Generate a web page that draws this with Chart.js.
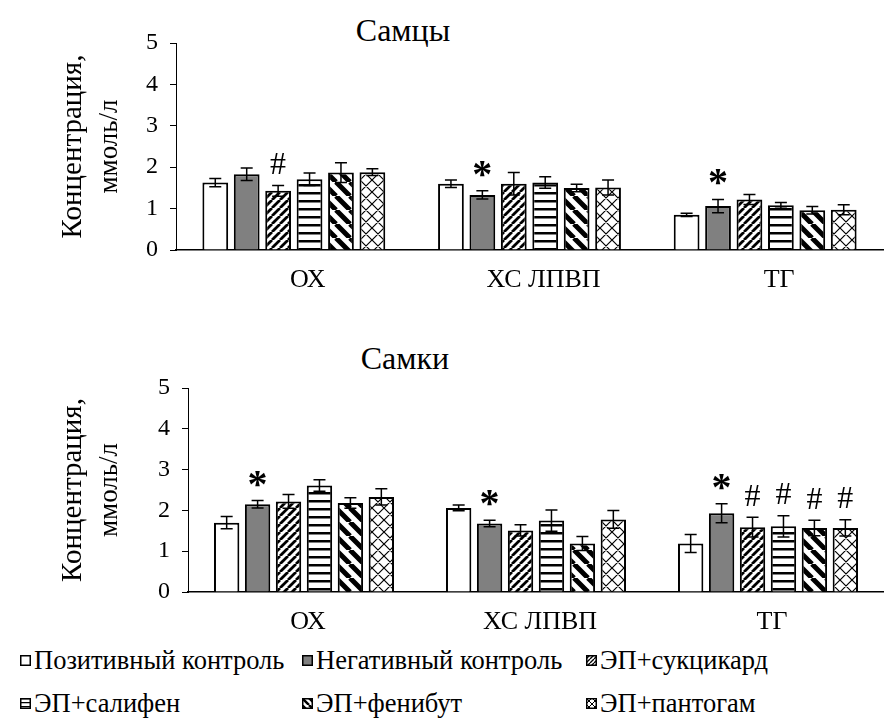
<!DOCTYPE html>
<html>
<head>
<meta charset="utf-8">
<script src="https://cdn.jsdelivr.net/npm/chart.js@4.4.0/dist/chart.umd.min.js"></script>
<style>
  body { margin: 0; background: #fff; }
  #page { position: relative; width: 884px; height: 720px; overflow: hidden; font-family: 'Liberation Serif'; }
  canvas.chart { position: absolute; left: 0; }
  #c1 { top: 0; }
  #c2 { top: 340px; }
  .title { position: absolute; width: 300px; text-align: center; font-family: 'Liberation Serif'; font-size: 32px; line-height: 32px; }
  #t1 { left: 253px; top: 14px; }
  #t2 { left: 255px; top: 342px; }
  .legend-item { position: absolute; display: flex; align-items: center; font-family: 'Liberation Serif'; font-size: 26.5px; line-height: 27px; white-space: nowrap; }
  .legend-item canvas { margin-right: 3px; }
</style>
</head>
<body>
<div id="page">
  <div class="title" id="t1">Самцы</div>
  <canvas class="chart" id="c1" width="884" height="300"></canvas>
  <div class="title" id="t2">Самки</div>
  <canvas class="chart" id="c2" width="884" height="300"></canvas>
  <div id="legend"></div>
</div>
<script>
const FONT = "'Liberation Serif'";

const categories = ["ОХ", "ХС ЛПВП", "ТГ"];
const groupNames = ["Позитивный контроль", "Негативный контроль", "ЭП+сукцикард", "ЭП+салифен", "ЭП+фенибут", "ЭП+пантогам"];
const yTicks = [0, 1, 2, 3, 4, 5];

// Самцы: среднее по группам (строка = группа, столбец = показатель)
const maleMeans = [
  [1.63, 1.60, 0.85],
  [1.83, 1.33, 1.06],
  [1.43, 1.60, 1.22],
  [1.71, 1.63, 1.08],
  [1.87, 1.50, 0.96],
  [1.88, 1.51, 0.97]
];
const maleErrors = [
  [0.10, 0.09, 0.04],
  [0.15, 0.10, 0.16],
  [0.13, 0.27, 0.12],
  [0.15, 0.14, 0.07],
  [0.24, 0.09, 0.09],
  [0.08, 0.18, 0.12]
];
const maleMarks = [
  ["", "", ""],
  ["", "*", "*"],
  ["#", "", ""],
  ["", "", ""],
  ["", "", ""],
  ["", "", ""]
];

// Самки
const femaleMeans = [
  [1.70, 2.06, 1.19],
  [2.15, 1.68, 1.93],
  [2.22, 1.51, 1.59],
  [2.61, 1.75, 1.61],
  [2.18, 1.19, 1.57],
  [2.33, 1.78, 1.57]
];
const femaleErrors = [
  [0.15, 0.07, 0.22],
  [0.09, 0.08, 0.23],
  [0.17, 0.14, 0.24],
  [0.14, 0.26, 0.26],
  [0.13, 0.17, 0.19],
  [0.20, 0.22, 0.20]
];
const femaleMarks = [
  ["", "", ""],
  ["*", "*", "*"],
  ["", "", "#"],
  ["", "", "#"],
  ["", "", "#"],
  ["", "", "#"]
];

const fillKinds = ["white", "grey", "up", "horiz", "down", "cross"];

// Штриховки для столбцов
const makePattern = (kind, s) => {
  if (kind === "white") return "#ffffff";
  if (kind === "grey") return "#808080";
  const c = document.createElement("canvas");
  const g = c.getContext("2d");
  let t;
  if (kind === "horiz") {
    c.width = 4; c.height = Math.round(8 * s);
    g.fillStyle = "#fff"; g.fillRect(0, 0, c.width, c.height);
    g.fillStyle = "#000"; g.fillRect(0, 0, c.width, Math.max(1, 2.5 * s));
    return g.createPattern(c, "repeat");
  }
  if (kind === "up") t = Math.round(8 * s);
  if (kind === "down") t = Math.round(14 * s);
  if (kind === "cross") t = Math.round(12 * s);
  c.width = c.height = t;
  g.fillStyle = "#fff"; g.fillRect(0, 0, t, t);
  g.strokeStyle = "#000";
  g.lineWidth = kind === "up" ? 2.8 * s : kind === "down" ? 5 * s : Math.max(1, 1.2 * s);
  g.beginPath();
  for (let k = -1; k <= 1; k++) {
    if (kind === "up" || kind === "cross") {
      g.moveTo(k * t, t); g.lineTo(k * t + t, 0);
    }
    if (kind === "down" || kind === "cross") {
      g.moveTo(k * t, 0); g.lineTo(k * t + t, t);
    }
  }
  g.stroke();
  return g.createPattern(c, "repeat");
};

// Планки погрешностей и значки достоверности
const errorBarsPlugin = {
  id: "errorBars",
  afterDatasetsDraw(chart) {
    const ctx = chart.ctx;
    const y = chart.scales.y;
    ctx.save();
    chart.data.datasets.forEach((ds, i) => {
      chart.getDatasetMeta(i).data.forEach((bar, j) => {
        const v = ds.data[j];
        const e = ds.errors[j];
        const yTop = y.getPixelForValue(v + e);
        const yBot = y.getPixelForValue(v - e);
        ctx.strokeStyle = "#000";
        ctx.lineWidth = 1.5;
        ctx.beginPath();
        ctx.moveTo(bar.x, yTop); ctx.lineTo(bar.x, yBot);
        ctx.moveTo(bar.x - 6, yTop); ctx.lineTo(bar.x + 6, yTop);
        ctx.moveTo(bar.x - 6, yBot); ctx.lineTo(bar.x + 6, yBot);
        ctx.stroke();

        const m = ds.marks[j];
        if (m) {
          ctx.font = m === "*" ? "bold 40px " + FONT : "32px " + FONT;
          ctx.fillStyle = "#000";
          ctx.textAlign = "center";
          ctx.textBaseline = "alphabetic";
          const mt = ctx.measureText(m);
          const cy = yTop - 22;
          ctx.fillText(m, bar.x, cy + (mt.actualBoundingBoxAscent - mt.actualBoundingBoxDescent) / 2);
        }
      });
    });
    ctx.restore();
  }
};

// Подпись оси Y в две строки
const yTitlePlugin = {
  id: "yTitle",
  afterDraw(chart) {
    const ctx = chart.ctx;
    const a = chart.chartArea;
    const cy = (a.top + a.bottom) / 2;
    ctx.save();
    ctx.fillStyle = "#000";
    ctx.textAlign = "center";
    ctx.textBaseline = "middle";
    ctx.translate(0, cy);
    ctx.rotate(-Math.PI / 2);
    ctx.font = "29px " + FONT;
    ctx.fillText("Концентрация,", 0, 73);
    ctx.font = "27px " + FONT;
    ctx.fillText("ммоль/л", 0, 110);
    ctx.restore();
  }
};

const makeChart = (id, means, errors, marks, left, top, right, axisH, labelShift) => {
  return new Chart(document.getElementById(id), {
    type: "bar",
    data: {
      labels: categories,
      datasets: means.map((vals, i) => ({
        label: groupNames[i],
        data: vals,
        errors: errors[i],
        marks: marks[i],
        backgroundColor: makePattern(fillKinds[i], 1),
        borderColor: "#000",
        borderWidth: 2,
        categoryPercentage: 0.8,
        barPercentage: 0.82
      }))
    },
    options: {
      responsive: false,
      animation: false,
      layout: { padding: { top: top, right: right, left: 0, bottom: 0 } },
      plugins: {
        legend: { display: false },
        tooltip: { enabled: false }
      },
      scales: {
        x: {
          grid: { display: false, drawTicks: false },
          border: { display: true, color: "#000", width: 1.5 },
          ticks: { color: "#000", font: { family: FONT, size: 26 }, padding: 15, labelOffset: labelShift },
          afterFit: (scale) => { scale.height = axisH; }
        },
        y: {
          min: yTicks[0],
          max: yTicks[yTicks.length - 1],
          afterBuildTicks: (scale) => { scale.ticks = yTicks.map((v) => ({ value: v })); },
          grid: { drawOnChartArea: false, drawTicks: true, tickLength: 6, color: "#000", lineWidth: 1 },
          border: { display: true, color: "#000", width: 1 },
          ticks: { color: "#000", font: { family: FONT, size: 24 }, padding: 12 },
          afterFit: (scale) => { scale.width = left; }
        }
      }
    },
    plugins: [errorBarsPlugin, yTitlePlugin]
  });
};

makeChart("c1", maleMeans, maleErrors, maleMarks, 176, 43, 1, 50, 14);
makeChart("c2", femaleMeans, femaleErrors, femaleMarks, 188, 48, 0, 48, 4);

// Легенда
const legendPos = [[20, 647], [302, 647], [586, 647], [20, 690], [302, 690], [586, 690]];
const legend = document.getElementById("legend");
groupNames.forEach((name, i) => {
  const item = document.createElement("div");
  item.className = "legend-item";
  item.style.left = legendPos[i][0] + "px";
  item.style.top = legendPos[i][1] + "px";
  const sw = document.createElement("canvas");
  sw.width = 11; sw.height = 11;
  const g = sw.getContext("2d");
  g.fillStyle = makePattern(fillKinds[i], 0.5);
  g.fillRect(0, 0, 11, 11);
  g.strokeStyle = "#000"; g.lineWidth = 1.5;
  g.strokeRect(0.75, 0.75, 9.5, 9.5);
  item.appendChild(sw);
  item.appendChild(document.createTextNode(name));
  legend.appendChild(item);
});
</script>
</body>
</html>
